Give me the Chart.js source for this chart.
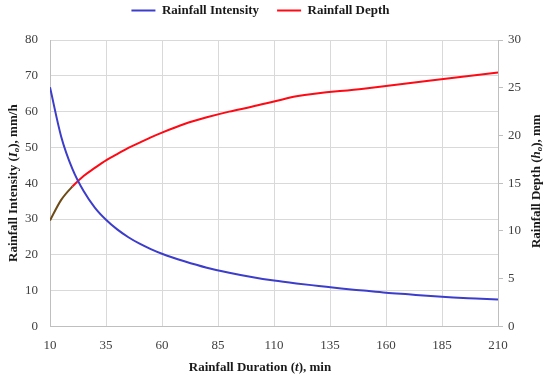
<!DOCTYPE html>
<html>
<head>
<meta charset="utf-8">
<script src="https://cdn.jsdelivr.net/npm/chart.js@4/dist/chart.umd.min.js"></script>
<style>
  html, body { margin: 0; padding: 0; background: #fff; }
  #wrap { width: 550px; height: 376px; }
</style>
</head>
<body>
<div id="wrap"><canvas id="rain-chart"></canvas></div>
<script>
// durations (min) and intensity (mm/h)
const durationI = [10, 15, 20, 25, 30, 35, 40, 45, 50, 55, 60, 70, 80, 90, 100, 110, 120, 130, 140, 150, 160, 170, 180, 190, 200, 210]
const intensity = [66.8, 53.0, 44.0, 37.8, 33.2, 29.8, 27.1, 24.9, 23.1, 21.6, 20.3, 18.2, 16.4, 15.0, 13.8, 12.8, 12.0, 11.3, 10.6, 10.0, 9.4, 8.95, 8.5, 8.1, 7.8, 7.5]

// durations (min) and depth (mm)
const durationH = [10, 15, 20, 25, 30, 35, 40, 45, 50, 55, 60, 70, 80, 90, 100, 110, 120, 150, 180, 210]
const depth = [11.1, 13.25, 14.65, 15.75, 16.6, 17.4, 18.05, 18.7, 19.25, 19.8, 20.3, 21.2, 21.9, 22.5, 23.0, 23.55, 24.1, 24.9, 25.75, 26.6]

const FONT = "'Liberation Serif', 'DejaVu Serif', serif"
const BLUE = '#3d3dcc'
const RED = '#ff0a14'
const BROWN = '#6e4a17'
const GRID = '#d9d9d9'

function toPoints(xs, ys) {
    return xs.map((x, i) => ({ x: x, y: ys[i] }))
}

// axis titles have italic letters and a subscript, so they are drawn by hand
function drawRich(ctx, parts, cx, cy, rot) {
    ctx.save()
    ctx.translate(cx, cy)
    ctx.rotate(rot)
    let total = 0
    parts.forEach(p => {
        ctx.font = p.font
        p.w = ctx.measureText(p.t).width
        total += p.w
    })
    let x = -total / 2
    ctx.fillStyle = '#1a1a1a'
    ctx.textBaseline = 'middle'
    ctx.textAlign = 'left'
    parts.forEach(p => {
        ctx.font = p.font
        ctx.fillText(p.t, x, p.dy || 0)
        x += p.w
    })
    ctx.restore()
}

const B = 'bold 13px ' + FONT
const BI = 'italic bold 13px ' + FONT
const SUB = 'italic bold 9px ' + FONT

const titlesPlugin = {
    id: 'richTitles',
    afterInit(chart) {
        // leave a gap under the legend
        const legend = chart.legend
        const fit = legend.fit
        legend.fit = function () {
            fit.call(legend)
            legend.height += 13
        }
    },
    afterLayout(chart) {
        // legend sits a bit left of the centre in the original
        chart.legend.left -= 9
        chart.legend.right -= 9
    },
    afterDraw(chart) {
        const ctx = chart.ctx
        const area = chart.chartArea
        const midY = (area.top + area.bottom) / 2
        drawRich(ctx, [
            { t: 'Rainfall Duration (', font: B },
            { t: 't', font: BI },
            { t: '), min', font: B }
        ], 260, 368, 0)
        drawRich(ctx, [
            { t: 'Rainfall Intensity (', font: B },
            { t: 'I', font: BI },
            { t: 'o', font: SUB, dy: 3 },
            { t: '), mm/h', font: B }
        ], 14, midY, -Math.PI / 2)
        drawRich(ctx, [
            { t: 'Rainfall Depth (', font: B },
            { t: 'h', font: BI },
            { t: 'o', font: SUB, dy: 3 },
            { t: '), mm', font: B }
        ], 537, midY - 2, -Math.PI / 2)
    }
}

const chart = new Chart(document.getElementById('rain-chart').getContext('2d'), {
    type: 'line',
    data: {
        datasets: [{
            label: 'Rainfall Intensity',
            data: toPoints(durationI, intensity),
            borderColor: BLUE,
            backgroundColor: BLUE,
            borderWidth: 2,
            pointRadius: 0,
            cubicInterpolationMode: 'monotone',
            yAxisID: 'y'
        }, {
            label: 'Rainfall Depth',
            data: toPoints(durationH, depth),
            borderColor: RED,
            backgroundColor: RED,
            borderWidth: 2,
            pointRadius: 0,
            cubicInterpolationMode: 'monotone',
            segment: {
                borderColor: c => c.p1.parsed.x <= 20 ? BROWN : RED
            },
            yAxisID: 'y1'
        }]
    },
    options: {
        responsive: true,
        maintainAspectRatio: false,
        animation: false,
        layout: { padding: { top: -14, left: 13, right: 24, bottom: 12 } },
        plugins: {
            legend: {
                position: 'top',
                labels: {
                    usePointStyle: true,
                    pointStyle: 'line',
                    pointStyleWidth: 24,
                    padding: 18,
                    color: '#1a1a1a',
                    font: { family: FONT, size: 13, weight: 'bold' }
                }
            },
            tooltip: { enabled: false }
        },
        scales: {
            x: {
                type: 'linear',
                min: 10,
                max: 210,
                ticks: { stepSize: 25, color: '#404040', padding: 11, font: { family: FONT, size: 13 } },
                grid: { color: GRID, drawTicks: false },
                border: { color: '#bfbfbf' }
            },
            y: {
                position: 'left',
                min: 0,
                max: 80,
                ticks: { stepSize: 10, color: '#404040', padding: 12, font: { family: FONT, size: 13 } },
                grid: { color: GRID, drawTicks: false },
                border: { color: '#bfbfbf' }
            },
            y1: {
                position: 'right',
                min: 0,
                max: 30,
                ticks: { stepSize: 5, color: '#404040', padding: 5, font: { family: FONT, size: 13 } },
                grid: { color: '#bfbfbf', drawOnChartArea: false, drawTicks: true, tickLength: 5 },
                border: { color: '#bfbfbf' }
            }
        }
    },
    plugins: [titlesPlugin]
})
</script>
</body>
</html>
